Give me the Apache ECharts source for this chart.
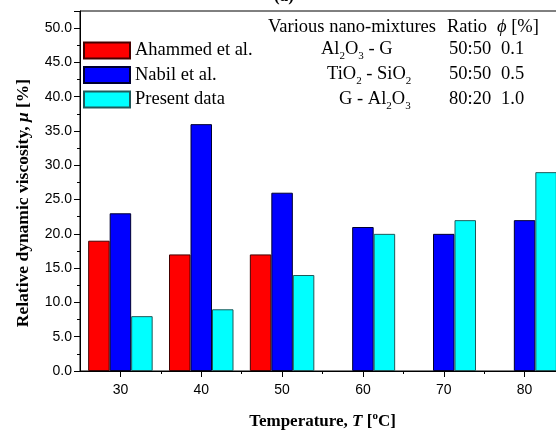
<!DOCTYPE html>
<html><head><meta charset="utf-8">
<script src="https://cdn.jsdelivr.net/npm/echarts@6/dist/echarts.min.js"></script>
<style>html,body{margin:0;padding:0;background:#fff}#c{width:556px;height:432px}</style>
</head><body><div id="c"></div>
<script>
const temps = [30, 40, 50, 60, 70, 80];
const ahammed = [19, 17, 17, null, null, null];
const nabil = [23, 36, 26, 21, 20, 22];
const present = [8, 9, 14, 20, 22, 29];
const seriesNames = ['Ahammed et al.', 'Nabil et al.', 'Present data'];
const xMajorTicks = [30, 40, 50, 60, 70, 80];
const xMinorTicks = [35, 45, 55, 65, 75];
const tableHeader = ['Various nano-mixtures', 'Ratio', '{i|ϕ} [%]'];
const tableMixtures = ['Al{s|2}O{s|3} - G', 'TiO{s|2} - SiO{s|2}', 'G - Al{s|2}O{s|3}'];
const tableRatios = ['50:50', '50:50', '80:20'];
const tablePhi = ['0.1', '0.5', '1.0'];

const serif = '"Liberation Serif", "Times New Roman", serif';
const sans = '"Liberation Sans", Arial, sans-serif';
const FS = 18.5;
function pairs(vals) { return temps.map((t, i) => [t, vals[i]]).filter(p => p[1] != null); }

const chart = echarts.init(document.getElementById('c'), null, {renderer: 'canvas'});
const grid = {left: 80, top: 11, width: 485, height: 360, show: true, borderColor: '#000', borderWidth: 1,
  backgroundColor: 'transparent', containLabel: false, outerBoundsMode: 'none'};
function tableText(txt, x, y) {
  return {type: 'text', x: x, y: y, style: {text: txt, fill: '#000', font: FS + 'px ' + serif, verticalAlign: 'middle', rich: {
    s: {fontSize: 11, fontFamily: serif, lineHeight: 11, verticalAlign: 'bottom', fill: '#000'},
    n: {fontSize: FS, fontFamily: serif, lineHeight: 26, fill: '#000'},
    i: {fontStyle: 'italic', fontSize: FS, fontFamily: serif, lineHeight: 26, fill: '#000'}
  }}};
}
const graphics = [];
const hx = [268, 447, 497];
tableHeader.forEach((t, k) => graphics.push(tableText('{n|' + t.replace('{i|ϕ}', '}{i|ϕ}{n|') + '}', hx[k], 27)));
const rowsY = [49, 74, 99];
const mixX = [321, 327, 339];
tableMixtures.forEach((t, r) => {
  const txt = '{n|' + t.replace(/\{s\|(\d)\}/g, '}{s|$1}{n|') + '}';
  graphics.push(tableText(txt, mixX[r], rowsY[r]));
  graphics.push(tableText('{n|' + tableRatios[r] + '}', 449, rowsY[r]));
  graphics.push(tableText('{n|' + tablePhi[r] + '}', 501, rowsY[r]));
});
graphics.push({type: 'text', x: 274, y: -12, style: {text: '(a)', fill: '#000', font: 'bold 17px ' + serif}});

const borderColors = ['#400', '#000030', '#1f5a5a'];
const colors = ['#ff0000', '#0000ff', '#00ffff'];
const dataSets = [ahammed, nabil, present];

chart.setOption({
  animation: false,
  backgroundColor: '#fff',
  grid: grid,
  graphic: graphics,
  legend: {
    orient: 'vertical', left: 83, top: 41, itemWidth: 46, itemHeight: 16, itemGap: 5.5,
    icon: 'rect', padding: 0, selectedMode: false,
    textStyle: {fontFamily: serif, fontSize: FS, color: '#000'},
    data: seriesNames
  },
  xAxis: [{
    type: 'value', min: 25, max: 85, interval: 5,
    name: 'Temperature, {i|T} [{sup|o}C]', nameLocation: 'middle', nameGap: 40,
    nameTextStyle: {fontFamily: serif, fontWeight: 'bold', fontSize: 17, color: '#000',
      rich: {i: {fontFamily: serif, fontWeight: 'bold', fontStyle: 'italic', fontSize: 17, color: '#000'},
             sup: {fontFamily: serif, fontWeight: 'bold', fontSize: 11, verticalAlign: 'top', lineHeight: 22, color: '#000'}}},
    axisLine: {lineStyle: {color: '#000', width: 1}},
    axisTick: {show: true, length: 6, lineStyle: {color: '#000'}, customValues: xMajorTicks},
    axisLabel: {customValues: xMajorTicks, fontFamily: sans, fontSize: 14, color: '#000', margin: 12},
    splitLine: {show: false}
  }, {
    type: 'value', min: 25, max: 85, position: 'bottom',
    axisLine: {show: false},
    axisTick: {show: true, length: 3, lineStyle: {color: '#000'}, customValues: xMinorTicks},
    axisLabel: {show: false}, splitLine: {show: false}
  }],
  yAxis: {
    type: 'value', min: 0, max: 52.5, interval: 5,
    name: 'Relative dynamic viscosity, {i|μ} [%]', nameLocation: 'middle', nameGap: 48,
    nameTextStyle: {fontFamily: serif, fontWeight: 'bold', fontSize: 17.5, color: '#000', padding: [0, 24, 0, 0],
      rich: {i: {fontFamily: serif, fontWeight: 'bold', fontStyle: 'italic', fontSize: 17.5, color: '#000'}}},
    axisLine: {show: true, lineStyle: {color: '#000', width: 1}},
    axisTick: {show: true, length: 6, lineStyle: {color: '#000'}},
    minorTick: {show: true, splitNumber: 2, length: 3, lineStyle: {color: '#000'}},
    axisLabel: {fontFamily: sans, fontSize: 14, color: '#000', margin: 8, showMaxLabel: false,
      formatter: v => v.toFixed(1)},
    splitLine: {show: false}
  },
  series: dataSets.map((d, k) => ({
    name: seriesNames[k], type: 'bar', xAxisIndex: 0, data: pairs(d),
    barWidth: 21.5, barGap: '0%',
    itemStyle: {color: colors[k], borderColor: borderColors[k], borderWidth: 1}
  }))
});
</script></body></html>
